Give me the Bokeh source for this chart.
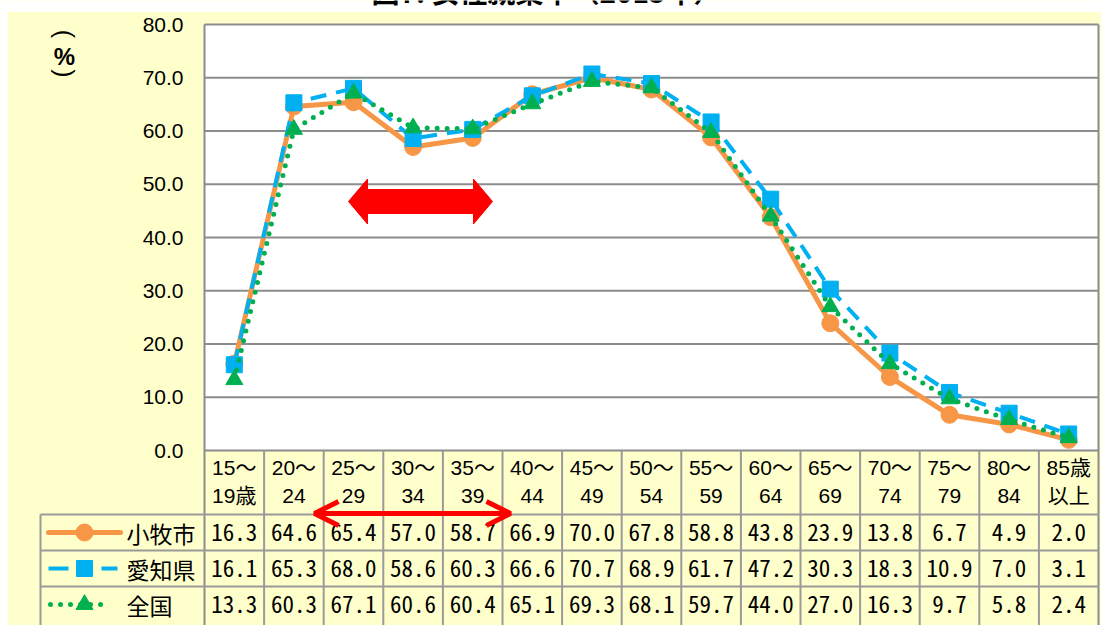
import numpy as np
from bokeh.plotting import figure
from bokeh.models import (Range1d, FixedTicker, NumeralTickFormatter, ColumnDataSource,
                          Arrow, OpenHead)
from bokeh.core.properties import value
from bokeh.embed import file_html
from bokeh.resources import INLINE

# ---------------- data ----------------
TITLE = "図7. 女性就業率（2015年）"
Y_UNIT = "%"
age_groups = ["15～19歳", "20～24", "25～29", "30～34", "35～39", "40～44", "45～49",
              "50～54", "55～59", "60～64", "65～69", "70～74", "75～79", "80～84", "85歳以上"]
age_line1 = ["15～", "20～", "25～", "30～", "35～", "40～", "45～", "50～", "55～",
             "60～", "65～", "70～", "75～", "80～", "85歳"]
age_line2 = ["19歳", "24", "29", "34", "39", "44", "49", "54", "59", "64", "69", "74",
             "79", "84", "以上"]
series_names = ["小牧市", "愛知県", "全国"]
komaki = [16.3, 64.6, 65.4, 57.0, 58.7, 66.9, 70.0, 67.8, 58.8, 43.8, 23.9, 13.8, 6.7, 4.9, 2.0]
aichi = [16.1, 65.3, 68.0, 58.6, 60.3, 66.6, 70.7, 68.9, 61.7, 47.2, 30.3, 18.3, 10.9, 7.0, 3.1]
zenkoku = [13.3, 60.3, 67.1, 60.6, 60.4, 65.1, 69.3, 68.1, 59.7, 44.0, 27.0, 16.3, 9.7, 5.8, 2.4]
y_ticks = [0, 10, 20, 30, 40, 50, 60, 70, 80]

# ---------------- style ----------------
YELLOW = "#FFFFCC"
ORANGE = "#F79646"
BLUE = "#00B0F0"
GREEN = "#00B050"
RED = "#FF0000"
GRID = "#8c8c8c"
TABLE_LINE = "#9a9a9a"
JP = "Noto Sans CJK JP"
SANS = "Liberation Sans, Noto Sans CJK JP"
MONO = "Noto Sans Mono CJK JP, Noto Sans CJK JP"

W, H = 1101, 625
N = len(age_groups)
Y_MAX = y_ticks[-1]

# layout: pixel geometry of the canvas
PLOT_L, PLOT_T, PLOT_B = 204, 24, 450
COLW = 59.6
PXY = (PLOT_B - PLOT_T) / Y_MAX           # px per percentage point


def fx(cx):
    return (cx - PLOT_L) / COLW


def fy(cy):
    return (PLOT_B - cy) / PXY


X0, X1 = fx(0), fx(W)
Y0, Y1 = fy(H), fy(0)

p = figure(width=W, height=H, x_range=Range1d(X0, X1), y_range=Range1d(Y0, Y1),
           x_axis_type=None, min_border=0, toolbar_location=None, output_backend="svg")
p.background_fill_color = YELLOW
p.border_fill_color = YELLOW
p.outline_line_color = None
p.ygrid.visible = False

# white margins (top strip with the title remnant, thin left strip)
p.quad(left=[X0 - 1, X0 - 1], right=[X1 + 1, fx(7)], bottom=[fy(11), Y0 - 1],
       top=[Y1 + 1, Y1 + 1], color="white")
p.text(x=[fx(546)], y=[fy(10)], text=[TITLE], text_align="center", text_baseline="bottom",
       text_font=value(JP), text_font_size="28px", text_font_style="bold",
       text_color="black")

# plot area
p.quad(left=0, right=N, bottom=0, top=Y_MAX, color="white")
p.segment(x0=[0] * len(y_ticks), y0=y_ticks, x1=[N] * len(y_ticks), y1=y_ticks,
          line_color=GRID, line_width=2)

# y axis drawn at the left edge of the plot area
ax = p.yaxis[0]
ax.fixed_location = 0
ax.ticker = FixedTicker(ticks=y_ticks)
ax.formatter = NumeralTickFormatter(format="0.0")
ax.axis_line_color = None
ax.major_tick_line_color = None
ax.minor_tick_line_color = None
ax.major_tick_out = 0
ax.major_tick_in = 0
ax.major_label_standoff = 21
ax.major_label_text_font = "Liberation Sans"
ax.major_label_text_font_size = "21px"
ax.major_label_text_color = "black"

# unit label  ︵ % ︶  (vertical writing)
ux = fx(64)
p.text(x=[ux, ux], y=[fy(33.5), fy(73)], text=["(", ")"], angle=-np.pi / 2,
       text_align="center", text_baseline="middle", text_font=value("Liberation Sans"),
       text_font_size="25px", text_color="black")
p.text(x=[fx(64)], y=[fy(56)], text=[Y_UNIT], text_align="center", text_baseline="middle",
       text_font=value("Liberation Sans"), text_font_size="24px", text_font_style="bold",
       text_color="black")

# ---------------- table grid ----------------
HEAD_B, ROW_H = 514, 36
row_tops = [fy(HEAD_B + ROW_H * i) for i in range(3)]
row_mid = [fy(HEAD_B + ROW_H * i + ROW_H / 2) for i in range(3)]
leg_left = fx(40)

p.segment(x0=[0, N], y0=[Y_MAX, Y_MAX], x1=[0, N], y1=[Y0 - 1, Y0 - 1],
          line_color=GRID, line_width=2)
inner = list(range(1, N))
p.segment(x0=inner, y0=[0] * len(inner), x1=inner, y1=[Y0 - 1] * len(inner),
          line_color=TABLE_LINE, line_width=2)
p.segment(x0=[leg_left], y0=[row_tops[0]], x1=[leg_left], y1=[Y0 - 1],
          line_color=TABLE_LINE, line_width=2)
p.segment(x0=[leg_left] * 3, y0=row_tops, x1=[N] * 3, y1=row_tops,
          line_color=TABLE_LINE, line_width=2)

# ---------------- series ----------------
xpos = np.arange(N) + 0.5
src = ColumnDataSource(dict(x=xpos, komaki=komaki, aichi=aichi, zenkoku=zenkoku))
p.line("x", "komaki", source=src, line_color=ORANGE, line_width=5, line_join="round")
p.scatter("x", "komaki", source=src, marker="circle", size=17, color=ORANGE)
p.line("x", "aichi", source=src, line_color=BLUE, line_width=4, line_dash="16 10")
p.scatter("x", "aichi", source=src, marker="square", size=16, color=BLUE)
p.line("x", "zenkoku", source=src, line_color=GREEN, line_width=5, line_dash="0 10",
       line_cap="round")
p.scatter("x", "zenkoku", source=src, marker="triangle", size=17, color=GREEN)

# block double arrow (marks the dip of the M curve)
xl, xr, yc = fx(348), fx(492), fy(201)
hl, hh, hs = 19 / COLW, 22.5 / PXY, 12 / PXY
p.patch([xl, xl + hl, xl + hl, xr - hl, xr - hl, xr, xr - hl, xr - hl, xl + hl, xl + hl],
        [yc, yc + hh, yc + hs, yc + hs, yc + hh, yc, yc - hh, yc - hs, yc - hs, yc - hh],
        color=RED)

# ---------------- table texts ----------------
p.text(x=xpos, y=[fy(467)] * N, text=age_line1, text_align="center", text_baseline="middle",
       text_font=value(SANS), text_font_size="21px", text_color="black")
p.text(x=xpos, y=[fy(495)] * N, text=age_line2, text_align="center", text_baseline="middle",
       text_font=value(SANS), text_font_size="21px", text_color="black")

for vals, ym in zip([komaki, aichi, zenkoku], row_mid):
    p.text(x=xpos, y=[ym] * N, text=[f"{v:.1f}" for v in vals], text_align="center",
           text_baseline="middle", text_font=value(MONO), text_font_size="23px",
           text_color="black")

p.text(x=[fx(126)] * 3, y=row_mid, text=series_names, text_align="left",
       text_baseline="middle", text_font=value(JP), text_font_size="23px",
       text_color="black")

# legend samples
p.line([fx(48), fx(120)], [row_mid[0]] * 2, line_color=ORANGE, line_width=5, line_cap="round")
p.scatter([fx(84)], [row_mid[0]], marker="circle", size=17, color=ORANGE)
p.line([fx(48), fx(117)], [row_mid[1]] * 2, line_color=BLUE, line_width=4, line_dash="20 33")
p.scatter([fx(84)], [row_mid[1]], marker="square", size=16, color=BLUE)
p.line([fx(50), fx(108)], [row_mid[2]] * 2, line_color=GREEN, line_width=5,
       line_dash="0 10", line_cap="round")
p.scatter([fx(84)], [row_mid[2]], marker="triangle", size=17, color=GREEN)

# thin double arrow across the table
ay = fy(HEAD_B - 1)
p.add_layout(Arrow(start=OpenHead(size=24, line_color=RED, line_width=5),
                   end=OpenHead(size=24, line_color=RED, line_width=5),
                   x_start=fx(314), y_start=ay, x_end=fx(510), y_end=ay,
                   line_color=RED, line_width=5))

open("out.html", "w").write(file_html(p, INLINE))
